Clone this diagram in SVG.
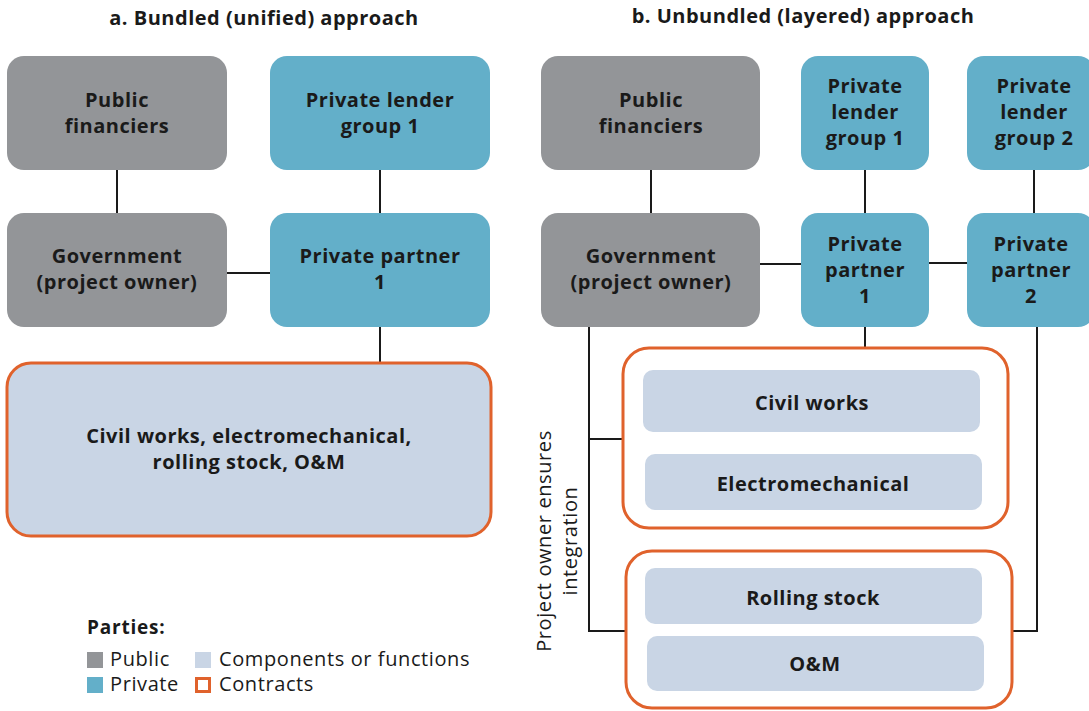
<svg xmlns="http://www.w3.org/2000/svg" width="1089" height="711" viewBox="0 0 1089 711">
<style>
text{font-family:"Open Sans","Noto Sans","Liberation Sans",sans-serif;fill:#1a1a1a}
.t{font-size:20px;font-weight:700;text-anchor:middle;letter-spacing:0.5px}
.n{font-size:20px;font-weight:700;text-anchor:middle;letter-spacing:0.5px}
.pub{fill:#939598}
.pri{fill:#63afc9}
.cmp{fill:#c9d5e5}
.ctr{fill:#ffffff;stroke:#e0622c;stroke-width:3}
.ln{stroke:#1a1a1a;stroke-width:2;fill:none}
.lg{font-size:20px;letter-spacing:0.6px}
</style>
<rect width="1089" height="711" fill="#ffffff"/>
<text class="t" x="264" y="25">a. Bundled (unified) approach</text>
<text class="t" x="803" y="23">b. Unbundled (layered) approach</text>

<g id="connectors">
<path class="ln" d="M117 170V213M380 170V213M227 273H270M380 327V363"/>
<path class="ln" d="M651 170V213M865 170V213M1034 170V213M760 264H801M929 263H967M865 327V348"/>
<path class="ln" d="M589 327V631H627M589 439H623M1037 327V631H1012"/>
</g>

<g id="a-public-financiers"><rect class="pub" x="7" y="56" width="220" height="114" rx="17"/><text class="n" x="117" y="107">Public</text><text class="n" x="117" y="133">financiers</text></g>
<g id="a-private-lender-1"><rect class="pri" x="270" y="56" width="220" height="114" rx="17"/><text class="n" x="380" y="107">Private lender</text><text class="n" x="380" y="133">group 1</text></g>
<g id="a-government"><rect class="pub" x="7" y="213" width="220" height="114" rx="17"/><text class="n" x="117" y="263">Government</text><text class="n" x="117" y="289">(project owner)</text></g>
<g id="a-private-partner-1"><rect class="pri" x="270" y="213" width="220" height="114" rx="17"/><text class="n" x="380" y="263">Private partner</text><text class="n" x="380" y="289">1</text></g>
<g id="a-contract"><rect x="7" y="363" width="484" height="173" rx="24" fill="#c9d5e5" stroke="#e0622c" stroke-width="3"/><text class="n" x="249" y="443">Civil works, electromechanical,</text><text class="n" x="249" y="469">rolling stock, O&amp;M</text></g>

<g id="b-public-financiers"><rect class="pub" x="541" y="56" width="219" height="114" rx="17"/><text class="n" x="651" y="107">Public</text><text class="n" x="651" y="133">financiers</text></g>
<g id="b-private-lender-1"><rect class="pri" x="801" y="56" width="128" height="114" rx="17"/><text class="n" x="865" y="93">Private</text><text class="n" x="865" y="119">lender</text><text class="n" x="865" y="145">group 1</text></g>
<g id="b-private-lender-2"><rect class="pri" x="967" y="56" width="128" height="114" rx="17"/><text class="n" x="1034" y="93">Private</text><text class="n" x="1034" y="119">lender</text><text class="n" x="1034" y="145">group 2</text></g>
<g id="b-government"><rect class="pub" x="541" y="213" width="219" height="114" rx="17"/><text class="n" x="651" y="263">Government</text><text class="n" x="651" y="289">(project owner)</text></g>
<g id="b-private-partner-1"><rect class="pri" x="801" y="213" width="128" height="114" rx="17"/><text class="n" x="865" y="251">Private</text><text class="n" x="865" y="277">partner</text><text class="n" x="865" y="303">1</text></g>
<g id="b-private-partner-2"><rect class="pri" x="967" y="213" width="128" height="114" rx="17"/><text class="n" x="1031" y="251">Private</text><text class="n" x="1031" y="277">partner</text><text class="n" x="1031" y="303">2</text></g>

<g id="b-contract-1"><rect class="ctr" x="623" y="348" width="385" height="180" rx="26"/></g>
<g id="b-civil-works"><rect class="cmp" x="643" y="370" width="337" height="62" rx="10"/><text class="n" x="812" y="410">Civil works</text></g>
<g id="b-electromechanical"><rect class="cmp" x="645" y="454" width="337" height="56" rx="10"/><text class="n" x="813" y="491">Electromechanical</text></g>
<g id="b-contract-2"><rect class="ctr" x="626" y="551" width="386" height="157" rx="26"/></g>
<g id="b-rolling-stock"><rect class="cmp" x="645" y="568" width="337" height="56" rx="10"/><text class="n" x="813" y="605">Rolling stock</text></g>
<g id="b-om"><rect class="cmp" x="647" y="636" width="337" height="55" rx="10"/><text class="n" x="815" y="671">O&amp;M</text></g>

<g id="integration-label" transform="translate(551,541) rotate(-90)"><text class="lg" text-anchor="middle" x="0" y="0">Project owner ensures</text><text class="lg" text-anchor="middle" x="0" y="26">integration</text></g>

<g id="legend">
<text x="87" y="634" style="font-size:19px;font-weight:700;letter-spacing:0.8px">Parties:</text>
<rect class="pub" x="87" y="652" width="16" height="16"/><text class="lg" x="110" y="666">Public</text>
<rect class="cmp" x="195" y="652" width="16" height="16"/><text class="lg" x="219" y="666">Components or functions</text>
<rect class="pri" x="87" y="677" width="16" height="16"/><text class="lg" x="110" y="691">Private</text>
<rect x="196.5" y="678.5" width="13" height="13" fill="#ffffff" stroke="#e0622c" stroke-width="3"/><text class="lg" x="219" y="691">Contracts</text>
</g>
</svg>
